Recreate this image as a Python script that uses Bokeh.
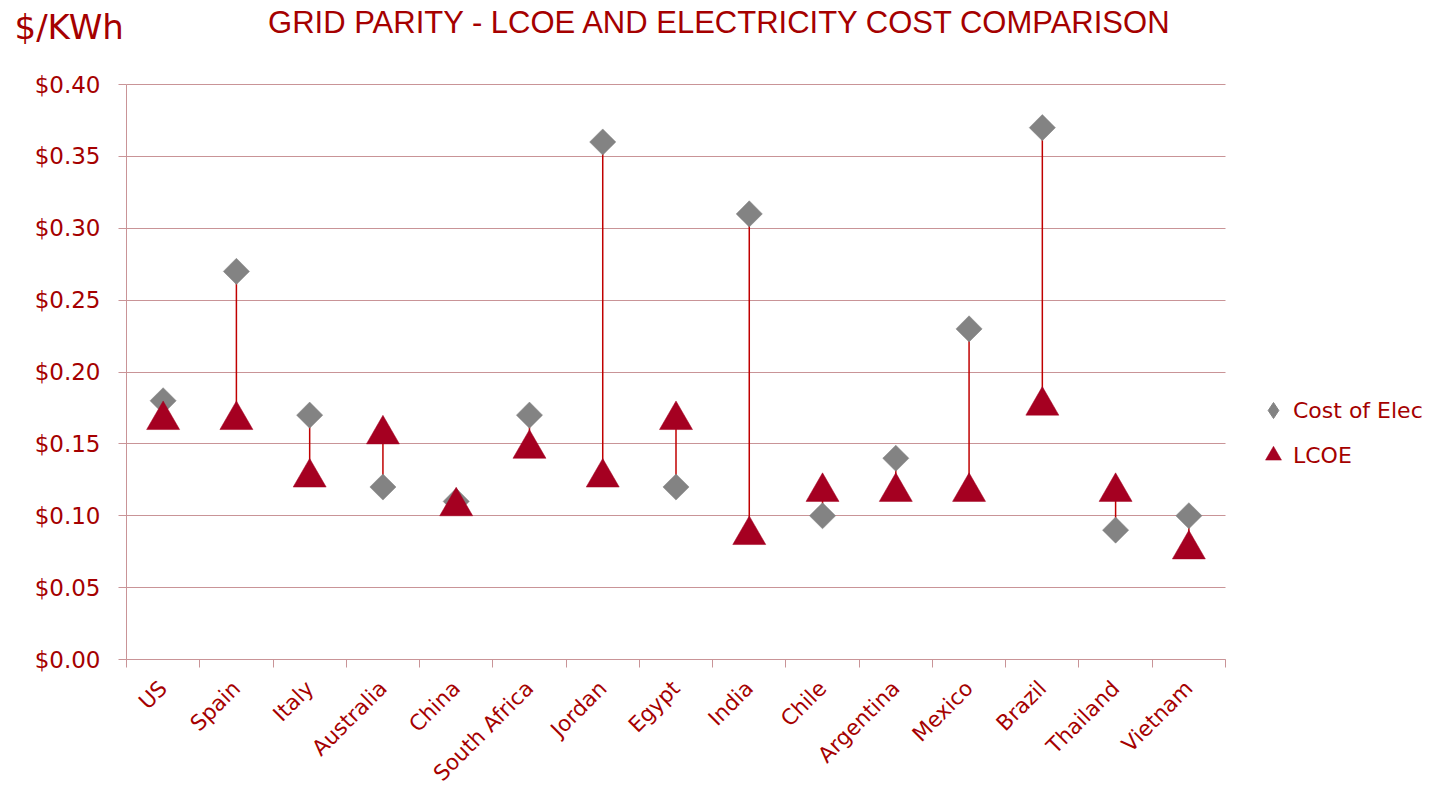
import math
from bokeh.plotting import figure
from bokeh.models import (ColumnDataSource, Range1d, FixedTicker, NumeralTickFormatter,
                          Legend, LegendItem, Label)
from bokeh.transform import dodge
from bokeh.embed import file_html
from bokeh.resources import INLINE

countries = ["US", "Spain", "Italy", "Australia", "China", "South Africa", "Jordan",
             "Egypt", "India", "Chile", "Argentina", "Mexico", "Brazil", "Thailand", "Vietnam"]
cost_of_elec = [0.18, 0.27, 0.17, 0.12, 0.11, 0.17, 0.36, 0.12, 0.31, 0.10, 0.14, 0.23, 0.37, 0.09, 0.10]
lcoe = [0.17, 0.17, 0.13, 0.16, 0.11, 0.15, 0.13, 0.17, 0.09, 0.12, 0.12, 0.12, 0.18, 0.12, 0.08]
y_ticks = [0.0, 0.05, 0.10, 0.15, 0.20, 0.25, 0.30, 0.35, 0.40]
Y_MAX = 0.40

TEXT = "#A50000"
GRID = "#C99497"
GRAY = "#838383"
RED = "#A50021"
LINE = "#C00000"
FONT = "DejaVu Sans"

# canvas and plot-area geometry in pixels
W, H = 1430, 788
AREA_L, AREA_R, AREA_T, AREA_B = 126, 1225, 84, 659

n = len(countries)
idx = list(range(1, n + 1))
src = ColumnDataSource(dict(x=idx, cost=cost_of_elec, lcoe=lcoe))

# the frame spans the whole canvas; axes are pinned to the data area with fixed_location
px_x = (AREA_R - AREA_L) / n
px_y = (AREA_B - AREA_T) / Y_MAX
x0 = 0.5 - AREA_L / px_x
y0 = -(H - AREA_B) / px_y

p = figure(width=W, height=H, output_backend="svg", toolbar_location=None,
           x_range=Range1d(x0, x0 + W / px_x), y_range=Range1d(y0, y0 + H / px_y),
           min_border=0, min_border_left=0, min_border_right=0,
           min_border_top=0, min_border_bottom=0)
p.outline_line_color = None
p.background_fill_color = "white"
p.border_fill_color = "white"

# high-low connectors between the two series
p.segment(x0="x", y0="cost", x1="x", y1="lcoe", source=src, line_color=LINE, line_width=1.5)

p.scatter(x="x", y="cost", source=src, marker="square", angle=math.pi / 4,
          size=18.5, fill_color=GRAY, line_color=GRAY, line_width=0.5)
r_lcoe = p.scatter(x="x", y=dodge("lcoe", -0.0034, range=p.y_range), source=src,
                   marker="triangle", size=33, fill_color=RED, line_color=RED, line_width=0.5)
# hidden renderer that supplies the diamond key of the cost series in the legend
r_cost_key = p.scatter(x="x", y="cost", source=src, marker="diamond",
                       fill_color=GRAY, line_color=GRAY, visible=False)

# y axis
yax = p.yaxis[0]
yax.fixed_location = 0.5
yax.bounds = (0, Y_MAX)
yax.ticker = FixedTicker(ticks=y_ticks)
yax.formatter = NumeralTickFormatter(format="$0.00")
yax.axis_line_color = GRID
yax.major_tick_line_color = GRID
yax.major_tick_out = 8
yax.major_tick_in = 0
yax.minor_tick_line_color = None
yax.major_label_text_color = TEXT
yax.major_label_text_font = FONT
yax.major_label_text_font_size = "23px"
yax.major_label_standoff = 18

p.ygrid.ticker = FixedTicker(ticks=y_ticks)
p.ygrid.grid_line_color = GRID
p.ygrid.cross_bounds = (0.5, n + 0.5)
p.xgrid.grid_line_color = None

# x axis: labels at category centers, tick marks at category boundaries
xax = p.xaxis[0]
xax.fixed_location = 0
xax.bounds = (0.5, n + 0.5)
xax.ticker = FixedTicker(ticks=idx, minor_ticks=[i + 0.5 for i in range(n + 1)])
xax.major_label_overrides = {i: c for i, c in zip(idx, countries)}
xax.major_label_orientation = math.pi / 4
xax.axis_line_color = GRID
xax.major_tick_line_color = None
xax.major_tick_out = 0
xax.major_tick_in = 0
xax.minor_tick_line_color = GRID
xax.minor_tick_out = 8
xax.minor_tick_in = 0
xax.major_label_text_color = TEXT
xax.major_label_text_font = FONT
xax.major_label_text_font_size = "21.5px"
xax.major_label_standoff = 17

legend = Legend(items=[LegendItem(label="Cost of Elec", renderers=[r_cost_key]),
                       LegendItem(label="LCOE", renderers=[r_lcoe])],
                location=(1253, H - 475), orientation="vertical",
                border_line_color=None, background_fill_alpha=0,
                inactive_fill_alpha=0,
                label_text_color=TEXT, label_text_font=FONT, label_text_font_size="22px",
                glyph_width=40, glyph_height=40, label_standoff=-10, spacing=5,
                padding=0, margin=0)
p.add_layout(legend, "center")

p.add_layout(Label(x=720, y=H - 22, x_units="screen", y_units="screen",
                   text="GRID PARITY - LCOE AND ELECTRICITY COST COMPARISON",
                   text_align="center", text_baseline="middle", text_color=TEXT,
                   text_font="Liberation Sans", text_font_size="31px"))
p.add_layout(Label(x=14, y=H - 26, x_units="screen", y_units="screen", text="$/KWh",
                   text_align="left", text_baseline="middle",
                   text_color=TEXT, text_font=FONT, text_font_size="34px"))

open("out.html", "w").write(file_html(p, INLINE))
